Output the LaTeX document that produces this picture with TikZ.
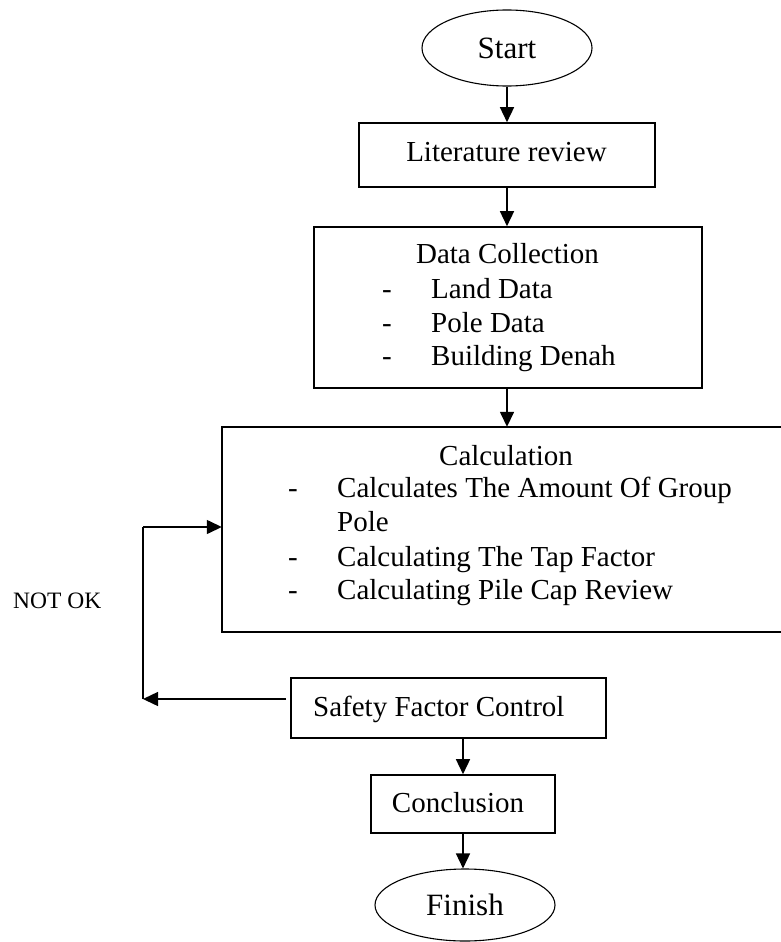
\documentclass[tikz,border=0pt]{standalone}
\usepackage{fontspec}
\setmainfont{Liberation Serif}
\usetikzlibrary{arrows.meta,shapes.geometric}
\begin{document}
\begin{tikzpicture}[x=1pt,y=-1pt,
  procbox/.style={draw, line width=1.6pt, rectangle, inner sep=0pt},
  endnode/.style={draw, ellipse, line width=1.1pt, inner sep=0pt, font=\fontsize{31}{36}\selectfont},
  txt/.style={inner sep=0pt, anchor=base west, font=\fontsize{29}{34}\selectfont},
  ctxt/.style={txt, anchor=base},
  arr/.style={line width=1.5pt, -{Triangle[length=15pt,width=14pt]}},
  loopline/.style={line width=1.1pt},
  looparr/.style={line width=1.4pt, -{Triangle[length=15pt,width=14pt]}}
]
\useasboundingbox (0,0) rectangle (781,942);

% nodes
\node[endnode, minimum width=170pt, minimum height=76pt] (start) at (507,48) {Start};
\node[procbox, minimum width=296pt, minimum height=64pt] (lit) at (507,155) {};
\node[ctxt] (littxt) at (506.5,161) {Literature review};

\node[procbox, minimum width=388pt, minimum height=161pt] (data) at (508,307.5) {};
\node[ctxt] (datatxt) at (507.5,263) {Data Collection};
\node[ctxt] (dd1) at (387,298) {-};
\node[txt] (di1) at (431,298) {Land Data};
\node[ctxt] (dd2) at (387,332) {-};
\node[txt] (di2) at (431,332) {Pole Data};
\node[ctxt] (dd3) at (387,365) {-};
\node[txt] (di3) at (431,365) {Building Denah};

\node[inner sep=0pt, minimum width=561pt, minimum height=205pt] (calc) at (502.5,529.5) {};
\draw[line width=1.6pt] (calc.north east) -- (calc.north west) -- (calc.south west) -- (calc.south east);
\node[ctxt] (calctxt) at (506,465) {Calculation};
\node[ctxt] (cd1) at (293,497) {-};
\node[txt] (ci1) at (337,497) {Calculates The Amount Of Group};
\node[txt] (ci1b) at (337,531) {Pole};
\node[ctxt] (cd2) at (293,566) {-};
\node[txt] (ci2) at (337,566) {Calculating The Tap Factor};
\node[ctxt] (cd3) at (293,599) {-};
\node[txt] (ci3) at (337,599) {Calculating Pile Cap Review};

\node[procbox, minimum width=315pt, minimum height=60pt] (safety) at (448.5,708) {};
\node[txt] (safetytxt) at (313,716) {Safety Factor Control};

\node[procbox, minimum width=184pt, minimum height=58pt] (concl) at (463,804) {};
\node[ctxt] (concltxt) at (458,812) {Conclusion};

\node[endnode, minimum width=180pt, minimum height=72pt] (finish) at (465,905) {Finish};

\node[inner sep=0pt, anchor=base west, font=\fontsize{23.5}{28}\selectfont] (notok) at (13,608) {NOT OK};

% loop coordinates
\coordinate (lp1) at (143,699);
\coordinate (lp2) at (143,527);

% connectors
\draw[arr] (start.south) -- (start.south |- lit.north);
\draw[arr] (lit.south) -- (lit.south |- data.north);
\draw[arr] (data.south -| lit.south) -- (lit.south |- calc.north);
\draw[arr] (concl.north |- safety.south) -- (concl.north);
\draw[arr] (concl.south) -- (concl.south |- finish.north);
\draw[looparr, shorten <=4pt] (safety.west |- lp1) -- (lp1);
\draw[loopline] (lp1) -- (lp2);
\draw[looparr] (lp2) -- (lp2 -| calc.west);
\end{tikzpicture}
\end{document}
